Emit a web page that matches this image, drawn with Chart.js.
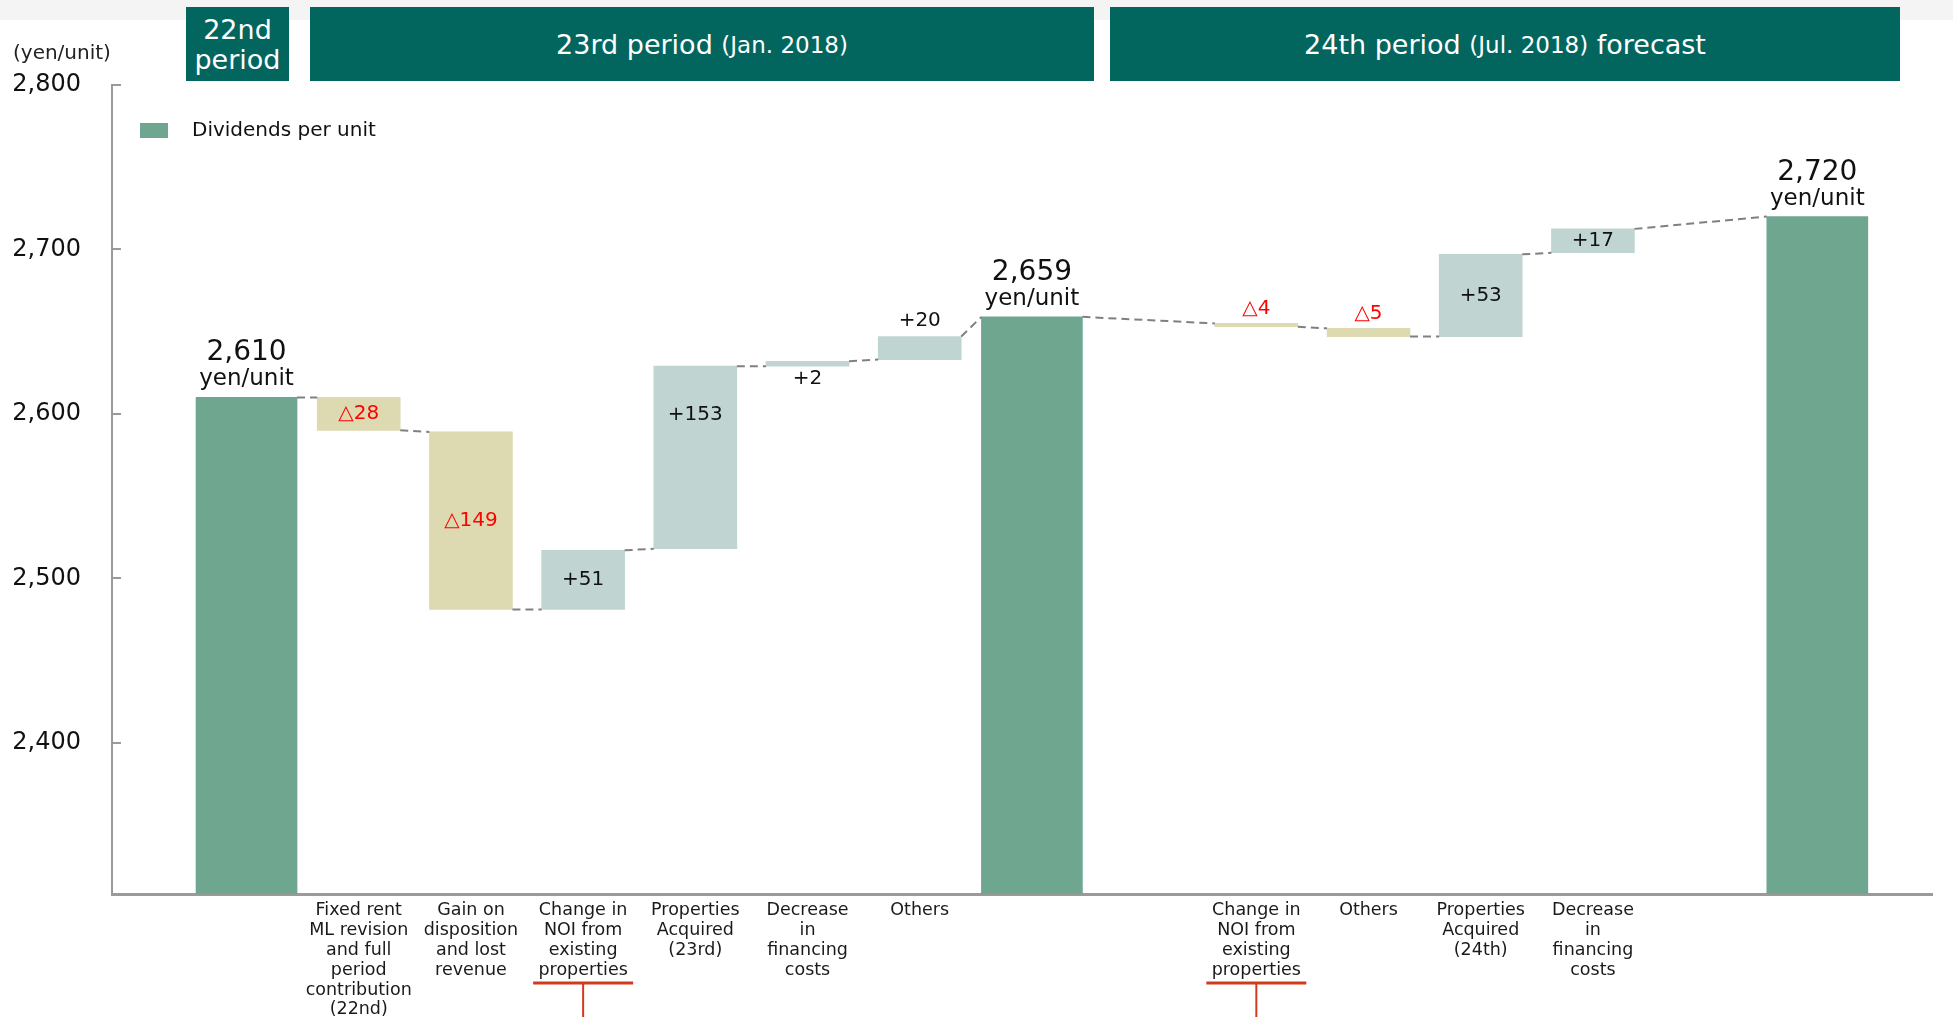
<!DOCTYPE html>
<html>
<head>
<meta charset="utf-8">
<title>Dividends per unit</title>
<script src="https://cdn.jsdelivr.net/npm/chart.js@4.4.1/dist/chart.umd.min.js"></script>
<style>
    body { margin: 0; background: #fff; font-family: 'DejaVu Sans', Verdana, sans-serif; }
    #wrap { position: relative; width: 1953px; height: 1017px; overflow: hidden; }
    #wrap canvas { position: absolute; left: 0; top: 0; }
    .strip { position: absolute; left: 0; top: 0; width: 1953px; height: 20px; background: #f4f4f4; }
    .head {
        position: absolute; top: 7px; height: 74px; background: #02665f; color: #fff;
        display: flex; align-items: center; justify-content: center; text-align: center;
        font-size: 27px; line-height: 30px; padding-top: 2px; box-sizing: border-box;
    }
    .head small { font-size: 23px; }
    .unit { position: absolute; left: 13px; top: 40px; font-size: 20px; color: #222; }
</style>
</head>
<body>
<div id="wrap">
    <div class="strip"></div>
    <canvas id="chart"></canvas>
    <div class="head" style="left:186px;width:103px;">22nd<br>period</div>
    <div class="head" style="left:310px;width:784px;">23rd period&nbsp;<small>(Jan. 2018)</small></div>
    <div class="head" style="left:1110px;width:790px;">24th period&nbsp;<small>(Jul. 2018)</small>&nbsp;forecast</div>
    <div class="unit">(yen/unit)</div>
</div>
<script>
// Categories (blank entries are the total bars and the gaps between periods)
const categories = [
    [''],
    ['Fixed rent', 'ML revision', 'and full', 'period', 'contribution', '(22nd)'],
    ['Gain on', 'disposition', 'and lost', 'revenue'],
    ['Change in', 'NOI from', 'existing', 'properties'],
    ['Properties', 'Acquired', '(23rd)'],
    ['Decrease', 'in', 'financing', 'costs'],
    ['Others'],
    [''],
    [''],
    ['Change in', 'NOI from', 'existing', 'properties'],
    ['Others'],
    ['Properties', 'Acquired', '(24th)'],
    ['Decrease', 'in', 'financing', 'costs'],
    [''],
    ['']
];

// Dividends per unit (yen)
const totalValues = [2610, null, null, null, null, null, null, 2659, null, null, null, null, null, null, 2720];

// Change amounts as labelled (yen)
const changeAmounts = [null, -28, -149, 51, 153, 2, 20, null, null, -4, -5, 53, 17, null, null];

// Floating bar ranges as drawn in the picture
const changeLow  = [null, 2590, 2481, 2481, 2518, 2629, 2633, null, null, 2653, 2647, 2647, 2698, null, null];
const changeHigh = [null, 2610, 2589, 2517, 2629, 2632, 2647, null, null, 2655, 2652, 2697, 2712.5, null, null];

const tickValues = [2400, 2500, 2600, 2700, 2800];

const FONT = "'DejaVu Sans', Verdana, sans-serif";
const TOTAL_COLOR = '#6ea68f';
const UP_COLOR = '#c0d5d2';
const DOWN_COLOR = '#dddab1';
const TOTAL_W = 101;
const CHANGE_W = 83;

const totalData = [];
const changeData = [];
const steps = [];
categories.forEach((c, i) => {
    if (totalValues[i] != null) {
        totalData.push({ x: i, y: totalValues[i] });
        steps.push({ i, start: totalValues[i], end: totalValues[i], half: TOTAL_W / 2 });
    } else if (changeAmounts[i] != null) {
        const up = changeAmounts[i] > 0;
        changeData.push({ x: i, y: [changeLow[i], changeHigh[i]], amount: changeAmounts[i] });
        steps.push({
            i,
            start: up ? changeLow[i] : changeHigh[i],
            end: up ? changeHigh[i] : changeLow[i],
            half: CHANGE_W / 2
        });
    }
});

// Legend, dashed connectors, value labels and the red markers
const waterfallDecor = {
    id: 'waterfallDecor',
    afterDatasetsDraw(chart, args, opts) {
        const { ctx, chartArea } = chart;
        const xs = chart.scales.x;
        const ys = chart.scales.y;

        // legend inside the plot
        const ds = chart.data.datasets[0];
        ctx.save();
        ctx.fillStyle = ds.backgroundColor;
        ctx.fillRect(chartArea.left + 28, chartArea.top + 38, 28, 15);
        ctx.fillStyle = '#111';
        ctx.font = '20px ' + FONT;
        ctx.textBaseline = 'middle';
        ctx.fillText(ds.label, chartArea.left + 80, chartArea.top + 46);
        ctx.restore();

        ctx.save();
        ctx.strokeStyle = '#808080';
        ctx.lineWidth = 2;
        ctx.setLineDash([8, 5]);
        for (let n = 0; n < steps.length - 1; n++) {
            const a = steps[n], b = steps[n + 1];
            ctx.beginPath();
            ctx.moveTo(xs.getPixelForValue(a.i) + a.half, ys.getPixelForValue(a.end));
            ctx.lineTo(xs.getPixelForValue(b.i) - b.half, ys.getPixelForValue(b.start));
            ctx.stroke();
        }
        ctx.restore();

        ctx.save();
        ctx.textAlign = 'center';
        ctx.fillStyle = '#111';
        totalData.forEach(d => {
            const cx = xs.getPixelForValue(d.x);
            const top = ys.getPixelForValue(d.y);
            ctx.textBaseline = 'alphabetic';
            ctx.font = '28px ' + FONT;
            ctx.fillText(d.y.toLocaleString('en-US'), cx, top - 37);
            ctx.font = '23px ' + FONT;
            ctx.fillText('yen/unit', cx, top - 12);
        });

        ctx.font = '20px ' + FONT;
        ctx.textBaseline = 'middle';
        changeData.forEach(d => {
            const cx = xs.getPixelForValue(d.x);
            const hi = ys.getPixelForValue(d.y[1]);
            const lo = ys.getPixelForValue(d.y[0]);
            let cy = (hi + lo) / 2;
            const p = opts.placement[d.x];
            if (p) {
                if (p[0] === 'above') cy = hi - p[1];
                if (p[0] === 'below') cy = lo + p[1];
                if (p[0] === 'top') cy = hi + p[1];
            }
            ctx.fillStyle = d.amount < 0 ? '#ff0000' : '#111';
            const txt = (d.amount < 0 ? '△' : '+') + Math.abs(d.amount);
            ctx.fillText(txt, cx, cy);
        });
        ctx.restore();

        ctx.save();
        ctx.strokeStyle = '#cf3b1d';
        opts.markers.forEach(i => {
            const cx = xs.getPixelForValue(i);
            const my = chartArea.bottom + 89;
            ctx.lineWidth = 3;
            ctx.beginPath();
            ctx.moveTo(cx - 50, my);
            ctx.lineTo(cx + 50, my);
            ctx.stroke();
            ctx.lineWidth = 2;
            ctx.beginPath();
            ctx.moveTo(cx, my);
            ctx.lineTo(cx, chart.height);
            ctx.stroke();
        });
        ctx.restore();
    }
};

const chart = new Chart(document.getElementById('chart'), {
    type: 'bar',
    data: {
        datasets: [
            {
                label: 'Dividends per unit',
                data: totalData,
                backgroundColor: TOTAL_COLOR,
                barThickness: TOTAL_W,
                grouped: false
            },
            {
                label: 'Change',
                data: changeData,
                backgroundColor: ctx => (ctx.raw && ctx.raw.amount < 0 ? DOWN_COLOR : UP_COLOR),
                barThickness: CHANGE_W,
                grouped: false
            }
        ]
    },
    options: {
        responsive: true,
        maintainAspectRatio: false,
        animation: false,
        events: [],
        layout: { padding: { top: 85, right: 21, left: 0, bottom: 0 } },
        scales: {
            x: {
                type: 'linear',
                offset: false,
                min: -1.199,
                max: 15.022,
                afterBuildTicks: scale => {
                    scale.ticks = categories.map((c, i) => ({ value: i }));
                },
                afterFit: scale => { scale.height = 123; },
                border: { color: '#9a9a9a', width: 3 },
                grid: { display: false, drawTicks: false },
                ticks: {
                    autoSkip: false,
                    maxRotation: 0,
                    minRotation: 0,
                    padding: 7,
                    color: '#1a1a1a',
                    font: { family: FONT, size: 17.5, lineHeight: 1.13 },
                    callback: value => categories[value]
                }
            },
            y: {
                min: 2308,
                max: 2800,
                afterBuildTicks: scale => {
                    scale.ticks = tickValues.map(v => ({ value: v }));
                },
                afterFit: scale => { scale.width = 112; },
                border: { color: '#9a9a9a', width: 2 },
                grid: {
                    drawOnChartArea: false,
                    drawTicks: true,
                    tickLength: -9,
                    color: '#9a9a9a',
                    lineWidth: 2
                },
                ticks: {
                    padding: 40,
                    color: '#111',
                    font: { family: FONT, size: 24 },
                    callback: value => value.toLocaleString('en-US')
                }
            }
        },
        plugins: {
            tooltip: { enabled: false },
            legend: { display: false },
            waterfallDecor: {
                placement: { 4: ['top', 49], 5: ['below', 13], 6: ['above', 16], 9: ['above', 15], 10: ['above', 15] },
                markers: [3, 9]
            }
        }
    },
    plugins: [waterfallDecor]
});
</script>
</body>
</html>
